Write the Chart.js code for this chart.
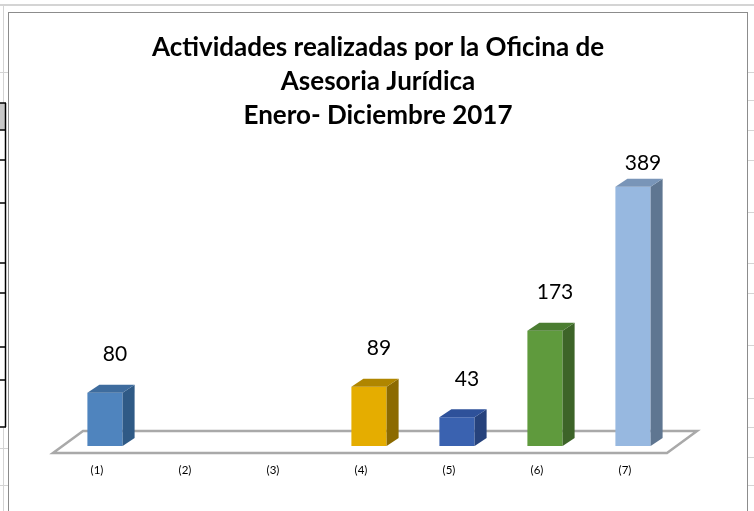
<!DOCTYPE html>
<html lang="es">
<head>
<meta charset="utf-8">
<title>Actividades realizadas por la Oficina de Asesoria Jurídica</title>
<script src="https://cdn.jsdelivr.net/npm/chart.js@4/dist/chart.umd.min.js"></script>
<style>
  html, body { margin: 0; padding: 0; background: #ffffff; }
  #wrap { position: relative; width: 754px; height: 511px; }
  canvas { display: block; }
</style>
</head>
<body>
<div id="wrap"><canvas id="chart" width="754" height="511"></canvas></div>
<script>
// Chart content
const titleLines = ['Actividades realizadas por la Oficina de', 'Asesoria Jurídica', 'Enero- Diciembre 2017'];
const categories = ['(1)', '(2)', '(3)', '(4)', '(5)', '(6)', '(7)'];
const activityCounts = [80, null, null, 89, 43, 173, 389];

// Per-bar shading: front face, side face, top face
const frontColors = ['#4f84be', '#e5ad00', '#3a62b0', '#5f9a3d', '#97b8e0'];
const sideColors  = ['#2f5a86', '#8c6a00', '#26427c', '#3d6428', '#5f7691'];
const topColors   = ['#3e6c9e', '#b08600', '#2e519a', '#4b7d31', '#7995b8'];
const barColorIndex = [0, 0, 0, 1, 2, 3, 4];

const DEPTH_X = 12, DEPTH_Y = 8;          // bar extrusion
const FLOOR_X = 30, FLOOR_Y = 22;         // floor depth

// Spreadsheet backdrop and chart frame
const sheetPlugin = {
  id: 'sheet',
  beforeDraw(chart) {
    const ctx = chart.ctx;
    ctx.save();
    ctx.fillStyle = '#ffffff';
    ctx.fillRect(0, 0, chart.width, chart.height);
    // light grid of the sheet
    ctx.strokeStyle = '#d4d4d4';
    ctx.lineWidth = 2;
    ctx.beginPath(); ctx.moveTo(0, 5); ctx.lineTo(chart.width, 5); ctx.stroke();
    ctx.lineWidth = 1;
    [72, 448, 485].forEach(y => { ctx.beginPath(); ctx.moveTo(0, y + 0.5); ctx.lineTo(8, y + 0.5); ctx.stroke(); });
    [72, 100, 130, 160, 212, 263, 293, 345, 398, 427, 457, 485].forEach(y => {
      ctx.beginPath(); ctx.moveTo(748, y + 0.5); ctx.lineTo(chart.width, y + 0.5); ctx.stroke();
    });
    ctx.beginPath(); ctx.moveTo(3.5, 6); ctx.lineTo(3.5, 103); ctx.stroke();
    ctx.beginPath(); ctx.moveTo(3.5, 428); ctx.lineTo(3.5, chart.height); ctx.stroke();
    // table fragment at the left edge
    ctx.fillStyle = '#c8c8c8';
    ctx.fillRect(0, 103, 5, 27);
    ctx.strokeStyle = '#000000';
    ctx.lineWidth = 1.5;
    [103, 130, 160, 203, 263, 293, 347, 380, 427].forEach(y => {
      ctx.beginPath(); ctx.moveTo(0, y); ctx.lineTo(6, y); ctx.stroke();
    });
    ctx.beginPath(); ctx.moveTo(5.5, 103); ctx.lineTo(5.5, 427); ctx.stroke();
    // chart frame
    ctx.fillStyle = '#ffffff';
    ctx.fillRect(8, 12, 740, chart.height);
    ctx.strokeStyle = '#8c8c8c';
    ctx.lineWidth = 1;
    ctx.strokeRect(8.5, 12.5, 739, chart.height + 10);
    // title
    ctx.fillStyle = '#000000';
    ctx.font = 'bold 26px Lato, "Open Sans", sans-serif';
    ctx.textAlign = 'center';
    ctx.textBaseline = 'middle';
    titleLines.forEach((line, i) => ctx.fillText(line, 378, 48 + i * 34));
    ctx.restore();
  },
  beforeDatasetsDraw(chart) {
    // floor of the plot
    const ctx = chart.ctx;
    const area = chart.chartArea;
    const base = chart.scales.y.getPixelForValue(0);
    const fl = area.left - 8, fr = area.right - 10, fy = base + 7;
    ctx.save();
    ctx.strokeStyle = '#a9a9a9';
    ctx.lineWidth = 2.5;
    ctx.lineJoin = 'miter';
    ctx.beginPath();
    ctx.moveTo(fl, fy);
    ctx.lineTo(fr, fy);
    ctx.lineTo(fr + FLOOR_X, fy - FLOOR_Y);
    ctx.lineTo(fl + FLOOR_X, fy - FLOOR_Y);
    ctx.closePath();
    ctx.stroke();
    ctx.restore();
  },
  afterDatasetsDraw(chart) {
    const ctx = chart.ctx;
    const meta = chart.getDatasetMeta(0);
    const xScale = chart.scales.x;
    const area = chart.chartArea;
    ctx.save();
    meta.data.forEach((bar, i) => {
      const v = activityCounts[i];
      if (v === null || v === undefined) return;
      const p = bar.getProps(['x', 'y', 'base', 'width'], true);
      const x1 = p.x - p.width / 2, x2 = p.x + p.width / 2;
      const top = p.y, base = p.base;
      const c = barColorIndex[i];
      // side face
      ctx.fillStyle = sideColors[c];
      ctx.beginPath();
      ctx.moveTo(x2, top);
      ctx.lineTo(x2 + DEPTH_X, top - DEPTH_Y);
      ctx.lineTo(x2 + DEPTH_X, base - DEPTH_Y);
      ctx.lineTo(x2, base);
      ctx.closePath();
      ctx.fill();
      // top face
      ctx.fillStyle = topColors[c];
      ctx.beginPath();
      ctx.moveTo(x1, top);
      ctx.lineTo(x1 + DEPTH_X, top - DEPTH_Y);
      ctx.lineTo(x2 + DEPTH_X, top - DEPTH_Y);
      ctx.lineTo(x2, top);
      ctx.closePath();
      ctx.fill();
      // value label
      ctx.fillStyle = '#000000';
      ctx.font = '21px Lato, "Open Sans", sans-serif';
      ctx.textAlign = 'center';
      ctx.textBaseline = 'middle';
      const ly = Math.max(top - 38, area.top + 17);
      ctx.fillText(String(v), p.x + 10, ly);
    });
    // category labels
    ctx.fillStyle = '#000000';
    ctx.font = '11.5px Lato, "Open Sans", sans-serif';
    ctx.textAlign = 'center';
    ctx.textBaseline = 'middle';
    categories.forEach((label, i) => {
      ctx.fillText(label, xScale.getPixelForValue(i) - 8, chart.scales.y.getPixelForValue(0) + 24);
    });
    ctx.restore();
  }
};

new Chart(document.getElementById('chart'), {
  type: 'bar',
  data: {
    labels: categories,
    datasets: [{
      data: activityCounts,
      backgroundColor: barColorIndex.map(c => frontColors[c]),
      borderWidth: 0,
      categoryPercentage: 1,
      barPercentage: 0.4
    }]
  },
  options: {
    responsive: false,
    animation: false,
    layout: { padding: { left: 61, right: 77, top: 146, bottom: 65 } },
    plugins: { legend: { display: false }, title: { display: false }, tooltip: { enabled: false } },
    scales: {
      x: { display: false, offset: true, grid: { display: false } },
      y: { display: false, min: 0, max: 450, grid: { display: false } }
    }
  },
  plugins: [sheetPlugin]
});
</script>
</body>
</html>
